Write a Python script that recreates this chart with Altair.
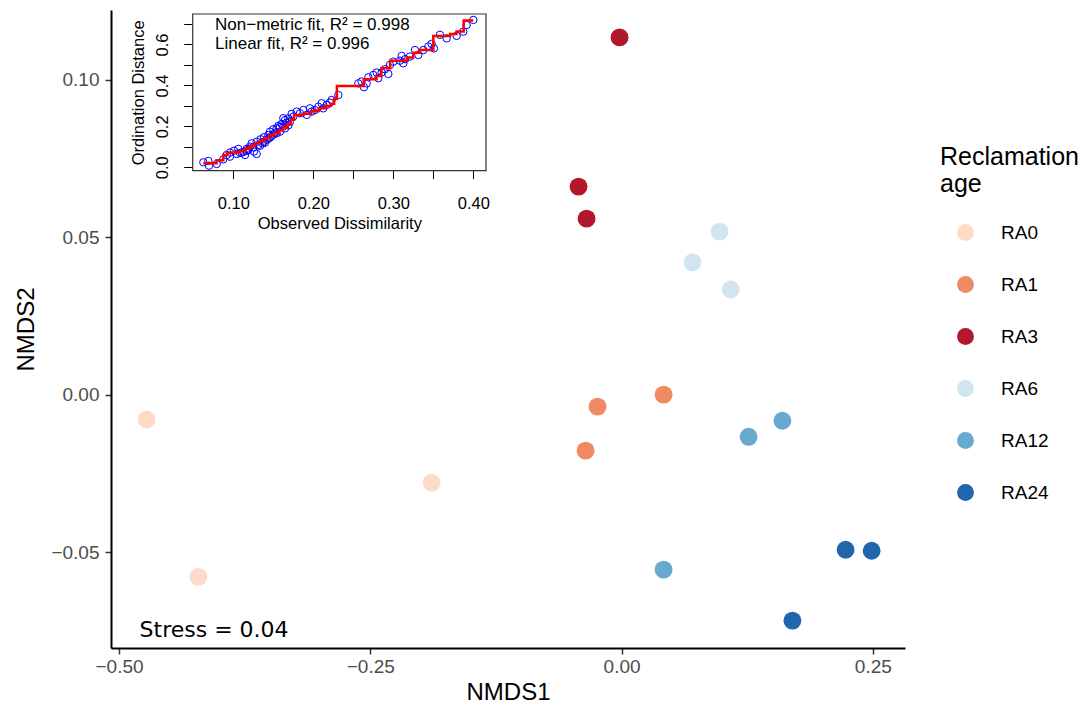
import altair as alt
import pandas as pd

# ---------------- main NMDS ordination ----------------
groups = ["RA0", "RA0", "RA0", "RA1", "RA1", "RA1", "RA3", "RA3", "RA3",
          "RA6", "RA6", "RA6", "RA12", "RA12", "RA12", "RA24", "RA24", "RA24"]
nmds1 = [-0.4726, -0.421, -0.189, -0.0239, -0.0358, 0.0418, -0.002, -0.0428, -0.0348,
         0.0975, 0.0706, 0.1085, 0.1264, 0.160, 0.0418, 0.2229, 0.2488, 0.170]
nmds2 = [-0.0079, -0.0579, -0.028, -0.0038, -0.0178, 0.0, 0.1135, 0.0661, 0.0559,
         0.0518, 0.042, 0.0334, -0.0134, -0.0083, -0.0556, -0.0493, -0.0496, -0.0718]
group_order = ["RA0", "RA1", "RA3", "RA6", "RA12", "RA24"]
group_colors = ["#fddbc7", "#ef8a62", "#b2182b", "#d1e5f0", "#67a9cf", "#2166ac"]

x_ticks = [-0.50, -0.25, 0.00, 0.25]
y_ticks = [-0.05, 0.00, 0.05, 0.10]
x_domain = [-0.508, 0.282]
y_domain = [-0.0805, 0.1222]

stress_label = ["Stress = 0.04"]
stress_x = [-0.4796]
stress_y = [-0.0747]

# ---------------- inset Shepard diagram ----------------
diss = [0.0625, 0.0688, 0.0696, 0.0792, 0.0875, 0.0917, 0.0958, 0.1008, 0.1063, 0.1104,
        0.1146, 0.1167, 0.1208, 0.1229, 0.1258, 0.1292, 0.1292, 0.1313, 0.1342, 0.1367,
        0.1383, 0.1417, 0.1438, 0.1458, 0.1479, 0.15, 0.1521, 0.1542, 0.1563, 0.1583,
        0.1604, 0.1625, 0.1646, 0.1667, 0.1688, 0.1708, 0.1729, 0.175, 0.1792, 0.1833,
        0.1875, 0.1917, 0.1958, 0.1979, 0.2021, 0.2063, 0.2104, 0.2125, 0.2167, 0.2208,
        0.2229, 0.2313, 0.2563, 0.2604, 0.2633, 0.2667, 0.2688, 0.275, 0.2792, 0.2813,
        0.2854, 0.2896, 0.2938, 0.2958, 0.30, 0.3083, 0.3104, 0.3125, 0.3146, 0.3208,
        0.3271, 0.3313, 0.3375, 0.3438, 0.3479, 0.3508, 0.3583, 0.3667, 0.3792, 0.3875,
        0.3917, 0.40,
        0.0958, 0.1042, 0.1125, 0.1188, 0.125, 0.1375, 0.1438, 0.15, 0.1542, 0.1583,
        0.1646, 0.1688, 0.1625, 0.1083, 0.1167, 0.1333, 0.1396, 0.1458]
ordd = [0.0244, 0.031, 0.008, 0.016, 0.039, 0.060, 0.072, 0.081, 0.090, 0.072,
        0.060, 0.090, 0.101, 0.117, 0.077, 0.065, 0.125, 0.109, 0.137, 0.117,
        0.147, 0.134, 0.158, 0.174, 0.153, 0.186, 0.169, 0.191, 0.202, 0.174,
        0.212, 0.199, 0.231, 0.218, 0.239, 0.223, 0.261, 0.248, 0.272, 0.264,
        0.280, 0.256, 0.288, 0.272, 0.280, 0.296, 0.313, 0.288, 0.305, 0.316,
        0.329, 0.353, 0.410, 0.419, 0.391, 0.410, 0.440, 0.451, 0.463, 0.435,
        0.463, 0.479, 0.456, 0.500, 0.516, 0.521, 0.544, 0.508, 0.528, 0.541,
        0.573, 0.549, 0.573, 0.590, 0.603, 0.581, 0.647, 0.630, 0.642, 0.663,
        0.695, 0.720,
        0.052, 0.065, 0.075, 0.085, 0.098, 0.125, 0.140, 0.160, 0.166, 0.196,
        0.190, 0.205, 0.240, 0.070, 0.080, 0.105, 0.120, 0.145]

step_x = [0.0625, 0.079, 0.0875, 0.0925, 0.108, 0.115, 0.121, 0.127, 0.133, 0.139,
          0.145, 0.151, 0.157, 0.162, 0.167, 0.172, 0.176, 0.188, 0.197, 0.207,
          0.215, 0.222, 0.226, 0.2295, 0.263, 0.279, 0.285, 0.296, 0.317, 0.325,
          0.333, 0.35, 0.371, 0.379, 0.388, 0.40]
step_y = [0.020, 0.035, 0.060, 0.072, 0.080, 0.092, 0.105, 0.118, 0.130, 0.142,
          0.155, 0.168, 0.180, 0.195, 0.210, 0.232, 0.256, 0.262, 0.275, 0.288,
          0.300, 0.310, 0.335, 0.397, 0.430, 0.446, 0.484, 0.520, 0.537, 0.560,
          0.573, 0.642, 0.651, 0.663, 0.717, 0.717]

inset_x_ticks = [0.10, 0.15, 0.20, 0.25, 0.30, 0.35, 0.40]
inset_y_ticks = [0.0, 0.1, 0.2, 0.3, 0.4, 0.5, 0.6, 0.7]
inset_x_domain = [0.0492, 0.4159]
inset_y_domain = [-0.0166, 0.7489]
fit_labels = ["Non\u2212metric fit, R\u00b2 = 0.998", "Linear fit, R\u00b2 = 0.996"]
fit_x = [0.0771, 0.0771]
fit_y = [0.695, 0.602]

# ---------------- layout ----------------
W, H = 794, 638
INSET_RANGE_X = [81.7, 375]
INSET_RANGE_Y = [160.7, 4]
FONT = "Liberation Sans"

main_df = pd.DataFrame({"NMDS1": nmds1, "NMDS2": nmds2, "group": groups})
stress_df = pd.DataFrame({"sx": stress_x, "sy": stress_y, "label": stress_label})
shep_df = pd.DataFrame({"diss": diss, "ordd": ordd})
step_df = pd.DataFrame({"diss": step_x, "ordd": step_y})
box_df = pd.DataFrame({"x0": [inset_x_domain[0]], "x1": [inset_x_domain[1]],
                       "y0": [inset_y_domain[0]], "y1": [inset_y_domain[1]]})
fit_df = pd.DataFrame({"diss": fit_x, "ordd": fit_y, "label": fit_labels})

mx_scale = alt.Scale(domain=x_domain, nice=False, zero=False)
my_scale = alt.Scale(domain=y_domain, nice=False, zero=False)

mx_axis = alt.Axis(values=x_ticks, format=".2f", title="NMDS1", grid=False,
                   domainColor="black", domainWidth=2, tickColor="#333333", tickWidth=1.5,
                   tickSize=6, labelFont=FONT, labelFontSize=19, labelColor="#4d4d4d",
                   labelPadding=3, titleFont=FONT, titleFontSize=24, titleFontWeight="normal",
                   titleColor="black", titlePadding=4, orient="bottom")
my_axis = alt.Axis(values=y_ticks, format=".2f", title="NMDS2", grid=False,
                   domainColor="black", domainWidth=2, tickColor="#333333", tickWidth=1.5,
                   tickSize=6, labelFont=FONT, labelFontSize=19, labelColor="#4d4d4d",
                   labelPadding=6, titleFont=FONT, titleFontSize=24, titleFontWeight="normal",
                   titleColor="black", titlePadding=12, orient="left")

points = alt.Chart(main_df).mark_circle(size=320, opacity=1).encode(
    x=alt.X("NMDS1:Q", scale=mx_scale, axis=mx_axis),
    y=alt.Y("NMDS2:Q", scale=my_scale, axis=my_axis),
    color=alt.Color("group:N", scale=alt.Scale(domain=group_order, range=group_colors),
                    legend=alt.Legend(title=["Reclamation", "age"], orient="none",
                                      legendX=829, legendY=135, padding=0,
                                      titleFont=FONT, titleFontSize=25, titleFontWeight="normal",
                                      titleLineHeight=27, titlePadding=26, titleColor="black",
                                      labelFont=FONT, labelFontSize=19, labelColor="black",
                                      symbolType="circle", symbolSize=283, symbolStrokeWidth=0,
                                      symbolOffset=16, labelOffset=26, rowPadding=32)),
)
stress = alt.Chart(stress_df).mark_text(align="left", baseline="middle", font="DejaVu Sans",
                                        fontSize=22, color="black").encode(
    x=alt.X("sx:Q", scale=mx_scale, axis=mx_axis),
    y=alt.Y("sy:Q", scale=my_scale, axis=my_axis),
    text="label:N",
)
main = alt.layer(points, stress)

ix_scale = alt.Scale(domain=inset_x_domain, range=INSET_RANGE_X, nice=False, zero=False)
iy_scale = alt.Scale(domain=inset_y_domain, range=INSET_RANGE_Y, nice=False, zero=False)
ix_axis = alt.Axis(values=inset_x_ticks, orient="bottom", offset=-(H - INSET_RANGE_Y[0]),
                   labelExpr="abs(datum.value*10 - round(datum.value*10)) < 0.01 ? format(datum.value, '.2f') : ''",
                   title="Observed Dissimilarity", grid=False, domain=False, tickColor="black",
                   tickSize=8, tickWidth=1, labelFont=FONT, labelFontSize=16.5, labelColor="black",
                   labelPadding=17, titleFont=FONT, titleFontSize=16.5, titleFontWeight="normal",
                   titleColor="black", titlePadding=3)
iy_axis = alt.Axis(values=inset_y_ticks, orient="left", offset=-INSET_RANGE_X[0],
                   labelExpr="abs(datum.value*5 - round(datum.value*5)) < 0.01 ? format(datum.value, '.1f') : ''",
                   title="Ordination Distance", grid=False, domain=False, tickColor="black",
                   tickSize=9, tickWidth=1, labelFont=FONT, labelFontSize=16.5, labelColor="black",
                   labelAngle=270, labelAlign="center", labelBaseline="bottom", labelPadding=13,
                   titleFont=FONT, titleFontSize=16.5, titleFontWeight="normal",
                   titleColor="black", titlePadding=8)

box = alt.Chart(box_df).mark_rect(fill="white", stroke="#333333", strokeWidth=1.2).encode(
    x=alt.X("x0:Q", scale=ix_scale, axis=ix_axis), x2="x1:Q",
    y=alt.Y("y0:Q", scale=iy_scale, axis=iy_axis), y2="y1:Q",
)
shep = alt.Chart(shep_df).mark_point(shape="circle", filled=False, color="blue",
                                     size=55, strokeWidth=1, opacity=1).encode(
    x=alt.X("diss:Q", scale=ix_scale, axis=ix_axis),
    y=alt.Y("ordd:Q", scale=iy_scale, axis=iy_axis),
)
step = alt.Chart(step_df).mark_line(interpolate="step-after", color="red", strokeWidth=2.5).encode(
    x=alt.X("diss:Q", scale=ix_scale, axis=ix_axis),
    y=alt.Y("ordd:Q", scale=iy_scale, axis=iy_axis),
)
fit = alt.Chart(fit_df).mark_text(align="left", baseline="middle", font=FONT,
                                  fontSize=17, color="black").encode(
    x=alt.X("diss:Q", scale=ix_scale, axis=ix_axis),
    y=alt.Y("ordd:Q", scale=iy_scale, axis=iy_axis),
    text="label:N",
)
inset = alt.layer(box, shep, step, fit)

chart = alt.layer(main, inset).resolve_scale(
    x="independent", y="independent"
).properties(
    width=W, height=H,
    autosize=alt.AutoSizeParams(type="none"),
    padding={"left": 103, "top": 2, "right": 175, "bottom": 58},
).configure_view(stroke=None)

chart.save("out.html", embed_options={"renderer": "svg", "actions": False})
